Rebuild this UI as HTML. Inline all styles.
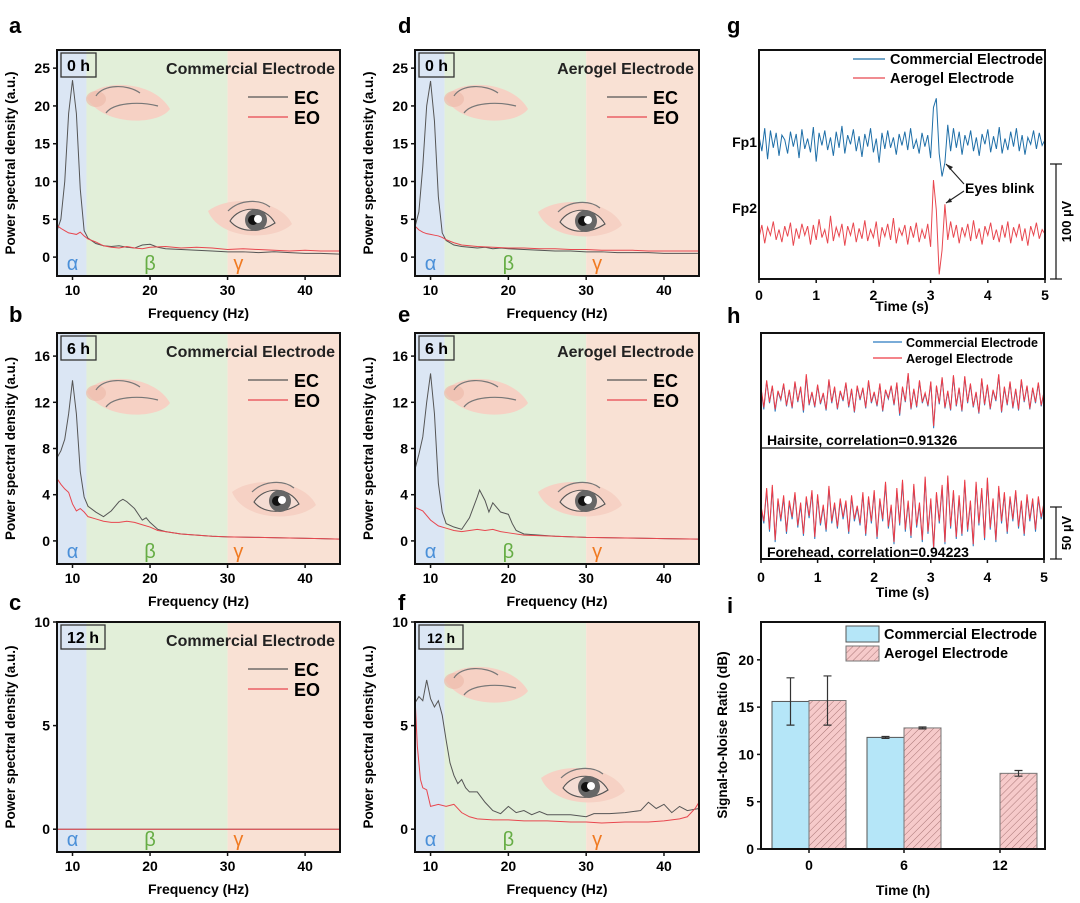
<!DOCTYPE html>
<html><head><meta charset="utf-8"><style>
html,body{margin:0;padding:0;background:#fff;}
svg{display:block;font-family:"Liberation Sans",Arial,sans-serif;font-weight:bold;}
</style></head><body>
<svg id="fig" width="1080" height="903" viewBox="0 0 1080 903" xmlns="http://www.w3.org/2000/svg">
<defs>
<pattern id="hatch" patternUnits="userSpaceOnUse" width="5" height="5" patternTransform="rotate(45)">
<rect width="5" height="5" fill="#f6caca"/><line x1="0" y1="0" x2="0" y2="5" stroke="#a77" stroke-width="1"/></pattern>
</defs>
</svg>
<script>
// ---------- PSD data ----------
const aEcF=[8,8.5,9,9.5,10,10.5,11,11.5,12,13,14,15,16,17,18,19,20,21,22,24,26,28,30,32,34,36,38,40,42,44.5];
const aEcV=[3.5,5,10,19,23.4,19,9,3.5,2.5,1.8,1.5,1.4,1.5,1.3,1.2,1.6,1.7,1.3,1.1,1.0,0.9,0.8,0.7,0.7,0.6,0.7,0.6,0.5,0.5,0.4];
const aEoF=[8,8.5,9,9.5,10,10.5,11,11.5,12,13,14,15,16,17,18,19,20,22,24,26,28,30,32,34,36,38,40,42,44.5];
const aEoV=[4.2,3.8,3.5,3.2,3.1,3.0,3.3,2.8,2.4,2.0,1.5,1.3,1.2,1.4,1.2,1.1,1.3,1.4,1.2,1.3,1.2,1.0,1.1,1.0,0.9,0.8,0.9,0.8,0.8];
const bEcF=[8,8.5,9,9.5,10,10.5,11,11.5,12,13,14,15,16,16.5,17,18,19,19.5,20,21,22,24,26,28,30,34,38,42,44.5];
const bEcV=[7.2,7.8,8.8,11,13.9,11,6,3.8,3.0,2.5,2.1,2.6,3.4,3.6,3.4,2.8,1.8,2.0,1.6,1.0,0.8,0.6,0.5,0.4,0.35,0.3,0.25,0.2,0.15];
const bEoF=[8,8.5,9,9.5,10,10.5,11,11.5,12,13,14,15,16,17,18,19,20,21,22,24,26,28,30,34,38,42,44.5];
const bEoV=[5.4,4.9,4.5,4.2,3.2,2.6,2.8,2.5,2.1,1.9,1.7,1.6,1.6,1.7,1.6,1.4,1.2,0.9,0.8,0.6,0.5,0.4,0.35,0.3,0.25,0.2,0.15];
const cEcF=[8,44.5];
const cEcV=[0,0];
const cEoF=[8,44.5];
const cEoV=[0,0];
const dEcF=[8,8.5,9,9.5,10,10.5,11,11.5,12,13,14,15,16,17,18,19,20,22,24,26,28,30,32,34,36,38,40,42,44.5];
const dEcV=[4.0,6,12,20,23.3,18,8,3.2,2.2,1.6,1.4,1.3,1.2,1.3,1.1,1.2,1.1,1.0,0.9,0.8,0.8,0.7,0.7,0.6,0.6,0.6,0.5,0.5,0.5];
const dEoF=[8,8.5,9,9.5,10,10.5,11,11.5,12,13,14,16,18,20,22,24,26,28,30,32,34,36,38,40,42,44.5];
const dEoV=[4.1,3.6,3.3,3.1,3.0,2.9,2.8,2.6,2.3,1.9,1.6,1.4,1.3,1.2,1.2,1.1,1.1,1.0,1.0,0.9,0.9,0.9,0.8,0.8,0.8,0.8];
const eEcF=[8,8.5,9,9.5,10,10.5,11,11.5,12,13,14,15,16,16.3,17,17.5,18,19,20,20.5,21,22,24,26,30,35,40,44.5];
const eEcV=[6.2,7.5,9,12,14.5,11,5,2.5,1.5,1.2,1.0,2.0,3.8,4.4,3.5,2.5,3.3,2.5,2.3,1.5,0.9,0.6,0.5,0.4,0.3,0.25,0.2,0.15];
const eEoF=[8,9,10,11,12,13,14,16,17,18,19,20,22,26,30,40,44.5];
const eEoV=[2.9,2.6,1.8,1.3,1.1,0.9,0.8,1.0,0.9,1.0,0.8,0.7,0.5,0.4,0.3,0.2,0.15];
const fEcF=[8,8.5,9,9.5,10,10.5,11,11.5,12,12.5,13,13.5,14,14.5,15,16,17,18,19,20,21,22,23,24,25,26,28,30,31,33,35,37,38,39,40,41,42,43,44.5];
const fEcV=[6.1,6.4,6.2,7.2,6.3,5.9,6.2,5.5,4.3,3.2,2.6,2.2,2.4,2.0,1.8,1.8,1.3,0.9,0.75,1.1,0.8,0.9,0.7,0.85,0.7,0.7,0.7,0.6,0.75,0.75,0.8,0.9,1.3,1.0,1.2,0.8,1.1,0.9,1.0];
const fEoF=[8,8.3,8.7,9,9.5,10,11,12,13,14,15,16,18,20,22,25,28,30,32,35,38,40,42,43,44,44.5];
const fEoV=[6.4,4,2.4,2.0,1.9,1.1,1.2,1.1,1.2,0.8,0.6,0.5,0.45,0.45,0.4,0.4,0.35,0.35,0.3,0.35,0.35,0.4,0.5,0.6,1.0,1.3];
const freqTicks=[10,20,30,40];
// ---------- time-series data (µV, 0.05 s steps) ----------
const fp1=[5,-8,12,-15,10,-5,8,-12,6,2,-10,9,-4,7,-14,11,-6,3,-9,13,-17,8,-3,10,-7,4,-12,9,-5,14,-10,6,-2,11,-8,5,-13,7,-4,12,-9,3,-18,8,-6,10,-5,4,-11,7,-3,9,-7,12,-6,2,-10,8,-4,6,-14,30,38,-10,-30,-18,15,-8,12,-5,9,-11,6,-3,10,-8,4,-12,7,-2,11,-9,5,-6,13,-10,3,-7,9,-4,12,-8,6,-11,4,-2,10,-6,8,-3,2];
const fp2=[-4,7,-9,5,-2,10,-6,3,-8,6,-3,9,-11,4,-5,8,-2,6,-10,7,-6,12,-4,3,-9,15,-7,5,-3,8,-11,6,-2,9,-8,4,-5,11,-7,3,-4,10,-12,5,-3,8,-6,13,-9,4,-2,7,-10,6,-4,9,-8,3,-5,8,-12,46,20,-36,-15,25,-6,10,-4,7,-9,5,-3,8,-7,11,-5,4,-10,6,-2,9,-6,3,-8,7,-4,10,-9,5,-3,8,-7,4,-11,6,-2,9,-5,3,-1];
const hairBlue=[8,-12,15,-6,10,-14,5,-3,12,-9,6,-11,14,-5,9,-15,20,-8,4,-10,11,-7,3,-13,16,-6,9,-12,5,-4,13,-10,7,-15,10,-3,8,-11,15,-6,4,-9,12,-14,6,-2,10,-8,13,-18,9,-5,22,-12,7,-10,15,-6,3,-9,14,-30,10,-7,18,-11,5,-13,20,-9,8,-14,19,-6,12,-10,4,-16,17,-8,11,-12,6,-4,21,-15,9,-8,14,-11,7,-13,16,-5,10,-12,8,-6,13,-9,4];
const hairRed=[9,-10,16,-5,11,-12,6,-2,13,-8,7,-10,15,-4,10,-13,22,-7,5,-9,12,-6,4,-12,17,-5,10,-11,6,-3,14,-9,8,-14,11,-2,9,-10,16,-5,5,-8,13,-13,7,-1,11,-7,14,-16,10,-4,23,-11,8,-9,16,-5,4,-8,15,-28,11,-6,19,-10,6,-12,21,-8,9,-13,20,-5,13,-9,5,-15,18,-7,12,-11,7,-3,22,-14,10,-7,15,-10,8,-12,17,-4,11,-11,9,-5,14,-8,5];
const foreBlue=[5,-10,22,-18,25,-28,12,-8,15,-20,10,-6,18,-14,8,-22,14,-5,20,-25,16,-12,6,-18,24,-10,8,-15,12,-6,10,-20,15,-8,5,-12,18,-22,14,-10,20,-25,12,-8,28,-15,6,-30,22,-12,30,-18,10,-24,26,-14,8,-28,33,-20,12,-35,18,-10,25,-30,34,-15,20,-25,15,-22,30,-18,10,-32,28,-12,22,-26,32,-16,12,-28,24,-10,18,-20,14,-8,20,-15,10,-22,16,-8,12,-18,14,-6,8];
const foreRed=[7,-8,24,-16,27,-26,14,-6,17,-18,12,-4,20,-12,10,-20,16,-3,22,-23,18,-10,8,-16,26,-8,10,-13,14,-4,12,-18,17,-6,7,-10,20,-20,16,-8,22,-23,14,-6,30,-13,8,-28,24,-10,32,-16,12,-22,28,-12,10,-26,35,-18,14,-33,20,-8,27,-28,36,-13,22,-23,17,-20,32,-16,12,-30,30,-10,24,-24,34,-14,14,-26,26,-8,20,-18,16,-6,22,-13,12,-20,18,-6,14,-16,16,-4,10];
// ---------- SNR data ----------
const snrCats=['0','6','12'];
const snrComm=[15.6,11.8,null];
const snrCommErr=[2.5,0.1,null];
const snrAero=[15.7,12.8,8.0];
const snrAeroErr=[2.6,0.1,0.3];
const snrTicks=[0,5,10,15,20];

const NS='http://www.w3.org/2000/svg';
const svg=document.getElementById('fig');
function mk(tag,attrs,parent){const e=document.createElementNS(NS,tag);for(const k in attrs)e.setAttribute(k,attrs[k]);(parent||svg).appendChild(e);return e;}
function txt(s,attrs,parent){const e=mk('text',attrs,parent);e.textContent=s;return e;}

function closedEye(g,cx,cy){
  const t=mk('g',{transform:`translate(${cx},${cy})`},g);
  
  
  mk('path',{d:'M-41,-3 C-30,-22 25,-22 42,8 C30,25 -25,25 -41,-3Z',fill:'#f6d1c4'},t);
  mk('ellipse',{cx:-32,cy:-2,rx:10,ry:8,fill:'#eebcac',opacity:0.7},t);
  mk('path',{d:'M-32,-5 C-25,-17 0,-17 12,-8',fill:'none',stroke:'#777','stroke-width':1.2},t);
  mk('path',{d:'M-22,12 C-15,2 10,0 30,5',fill:'none',stroke:'#777','stroke-width':1.2},t);
}
function openEye(g,cx,cy){
  const t=mk('g',{transform:`translate(${cx},${cy})`},g);
  
  
  mk('path',{d:'M-42,-8 C-20,-25 30,-20 42,5 C25,22 -30,22 -42,-8Z',fill:'#f6d1c4'},t);
  mk('path',{d:'M-22,-8 C-10,-20 10,-20 20,-12',fill:'none',stroke:'#777','stroke-width':1.2},t);
  mk('path',{d:'M-20,2 C-10,-14 15,-14 25,4 C10,14 -10,14 -20,2Z',fill:'#f4dcd3',stroke:'#555','stroke-width':1.1},t);
  mk('circle',{cx:6,cy:1,r:11,fill:'#666'},t);
  mk('circle',{cx:3,cy:1,r:5,fill:'#111'},t);
  mk('circle',{cx:8,cy:0,r:4,fill:'#fff'},t);
}

function psd(c){
  const g=mk('g',{});
  
  
  const sx=f=>c.x0+(f-8)/(44.5-8)*(c.x1-c.x0);
  const sy=v=>c.y1-(v-c.ymin)/(c.ymax-c.ymin)*(c.y1-c.y0);
  const cid='clip-'+c.name;
  const cp=mk('clipPath',{id:cid},g);
  mk('rect',{x:c.x0,y:c.y0,width:c.x1-c.x0,height:c.y1-c.y0},cp);
  const a=mk('rect',{x:c.x0,y:c.y0,width:sx(11.8)-c.x0,height:c.y1-c.y0,fill:'#dbe6f4'},g);
  
  
  const b=mk('rect',{x:sx(11.8),y:c.y0,width:sx(30)-sx(11.8),height:c.y1-c.y0,fill:'#e2efd9'},g);
  
  
  const gm=mk('rect',{x:sx(30),y:c.y0,width:c.x1-sx(30),height:c.y1-c.y0,fill:'#f9e1d4'},g);
  
  
  if(c.closed)closedEye(g,c.closed[0],c.closed[1]);
  if(c.open)openEye(g,c.open[0],c.open[1]);
  const lg=mk('g',{'clip-path':`url(#${cid})`},g);
  const ec=mk('polyline',{points:c.ecF.map((f,i)=>sx(f)+','+sy(c.ecV[i])).join(' '),fill:'none',stroke:'#555','stroke-width':1},lg);
  
  
  const eo=mk('polyline',{points:c.eoF.map((f,i)=>sx(f)+','+sy(c.eoV[i])).join(' '),fill:'none',stroke:'#e8474f','stroke-width':1},lg);
  
  
  mk('rect',{x:c.x0,y:c.y0,width:c.x1-c.x0,height:c.y1-c.y0,fill:'none',stroke:'#111','stroke-width':2},g);
  freqTicks.forEach(f=>{
    mk('line',{x1:sx(f),x2:sx(f),y1:c.y1,y2:c.y1+4,stroke:'#111','stroke-width':1.5},g);
    const t=txt(String(f),{x:sx(f),y:c.y1+19,'font-size':14,'text-anchor':'middle'},g);
    
    
  });
  c.ticks.forEach(v=>{
    mk('line',{x1:c.x0-4,x2:c.x0,y1:sy(v),y2:sy(v),stroke:'#111','stroke-width':1.5},g);
    const t=txt(String(v),{x:c.x0-7,y:sy(v)+5,'font-size':14,'text-anchor':'end'},g);
    
    
  });
  const xt=txt('Frequency (Hz)',{x:(c.x0+c.x1)/2,y:c.y1+42,'font-size':14,'text-anchor':'middle'},g);
  
  
  const ym=(c.y0+c.y1)/2;
  const yt=txt('Power spectral density (a.u.)',{x:c.x0-42,y:ym,'font-size':13.5,'text-anchor':'middle',transform:`rotate(-90 ${c.x0-42} ${ym})`},g);
  
  
  const hw=c.hours.length>3?44:35;
  mk('rect',{x:c.x0+4,y:c.y0+3,width:hw,height:24,fill:'none',stroke:'#333','stroke-width':1.3},g);
  const ht=txt(c.hours,{x:c.x0+4+hw/2,y:c.y0+21,'font-size':c.hfs||16,'text-anchor':'middle'},g);
  
  
  if(c.title){
    const tt=txt(c.title,{x:c.x1-5,y:c.y0+24,'font-size':16,'text-anchor':'end',fill:'#222'},g);
    
    
    [['EC','#555',47],['EO','#e8474f',67]].forEach(([n,col,dy])=>{
      mk('line',{x1:c.x1-92,x2:c.x1-52,y1:c.y0+dy,y2:c.y0+dy,stroke:col,'stroke-width':1.3},g);
      const l=txt(n,{x:c.x1-46,y:c.y0+dy+7,'font-size':18},g);
      
      
    });
  }
  [['α','#4a8fd8',10],['β','#66ad45',20],['γ','#f07a22',31.4]].forEach(([s,col,f])=>{
    const l=txt(s,{x:sx(f),y:c.y1-6,'font-size':20,'text-anchor':'middle',fill:col,'font-weight':'normal'},g);
    
    
  });
  const pl=txt(c.letter,{x:c.lx,y:c.ly,'font-size':22},g);
  
  
}

psd({name:'panel-a',letter:'a',lx:9,ly:33,x0:57,x1:340,y0:50,y1:276,ymin:-2.5,ymax:27.4,ticks:[0,5,10,15,20,25],hours:'0 h',title:'Commercial Electrode',ecF:aEcF,ecV:aEcV,eoF:aEoF,eoV:aEoV,closed:[128,101],open:[250,219]});
psd({name:'panel-b',letter:'b',lx:9,ly:322,x0:57,x1:340,y0:333,y1:564,ymin:-2,ymax:18,ticks:[0,4,8,12,16],hours:'6 h',title:'Commercial Electrode',ecF:bEcF,ecV:bEcV,eoF:bEoF,eoV:bEoV,closed:[128,395],open:[274,500]});
psd({name:'panel-c',letter:'c',lx:9,ly:610,x0:57,x1:340,y0:622,y1:852,ymin:-1.1,ymax:10,ticks:[0,5,10],hours:'12 h',title:'Commercial Electrode',ecF:cEcF,ecV:cEcV,eoF:cEoF,eoV:cEoV});
psd({name:'panel-d',letter:'d',lx:398,ly:33,x0:415,x1:699,y0:50,y1:276,ymin:-2.5,ymax:27.4,ticks:[0,5,10,15,20,25],hours:'0 h',title:'Aerogel Electrode',ecF:dEcF,ecV:dEcV,eoF:dEoF,eoV:dEoV,closed:[486,101],open:[580,220]});
psd({name:'panel-e',letter:'e',lx:398,ly:322,x0:415,x1:699,y0:333,y1:564,ymin:-2,ymax:18,ticks:[0,4,8,12,16],hours:'6 h',title:'Aerogel Electrode',ecF:eEcF,ecV:eEcV,eoF:eEoF,eoV:eEoV,closed:[486,395],open:[580,500]});
psd({name:'panel-f',letter:'f',lx:398,ly:610,x0:415,x1:699,y0:622,y1:852,ymin:-1.1,ymax:10,ticks:[0,5,10],hours:'12 h',hfs:14,title:null,ecF:fEcF,ecV:fEcV,eoF:fEoF,eoV:fEoV,closed:[486,683],open:[583,786]});

// ---------- time series panels ----------
function tsAxes(g,x0,x1,y0,y1,tickY,titleY){
  mk('rect',{x:x0,y:y0,width:x1-x0,height:y1-y0,fill:'none',stroke:'#111','stroke-width':2},g);
  [0,1,2,3,4,5].forEach(s=>{
    const x=x0+s/5*(x1-x0);
    mk('line',{x1:x,x2:x,y1:y1,y2:y1+4,stroke:'#111','stroke-width':1.5},g);
    const t=txt(String(s),{x:x,y:tickY,'font-size':14,'text-anchor':'middle'},g);
    
    
  });
  const tt=txt('Time (s)',{x:(x0+x1)/2,y:titleY,'font-size':14,'text-anchor':'middle'},g);
  
  
}
function trace(g,arr,x0,x1,base,k,col,name){
  const n=arr.length;
  const p=mk('polyline',{points:arr.map((v,i)=>(x0+i/(n-1)*(x1-x0))+','+(base-v*k)).join(' '),fill:'none',stroke:col,'stroke-width':1},g);
  
  
}
function scaleBar(g,x,ya,yb,label){
  mk('line',{x1:x,x2:x,y1:ya,y2:yb,stroke:'#111','stroke-width':1.2},g);
  mk('line',{x1:x-6,x2:x+6,y1:ya,y2:ya,stroke:'#111','stroke-width':1.2},g);
  mk('line',{x1:x-6,x2:x+6,y1:yb,y2:yb,stroke:'#111','stroke-width':1.2},g);
  const ym=(ya+yb)/2;
  const t=txt(label,{x:x+15,y:ym,'font-size':13,'text-anchor':'middle',transform:`rotate(-90 ${x+15} ${ym})`},g);
  
  
}
// panel g
(function(){
  const g=mk('g',{});
  
  
  const x0=759,x1=1045;
  trace(g,fp1,x0,x1,142,1.15,'#1f6fa8','fp1-trace');
  trace(g,fp2,x0,x1,233,1.15,'#e8474f','fp2-trace');
  tsAxes(g,x0,x1,50,279,300,311);
  [['Commercial Electrode','#1f6fa8',59],['Aerogel Electrode','#e8474f',78]].forEach(([s,c,y])=>{
    mk('line',{x1:853,x2:885,y1:y,y2:y,stroke:c,'stroke-width':1.3},g);
    const t=txt(s,{x:890,y:y+5,'font-size':14.5},g);
    
    
  });
  const f1=txt('Fp1',{x:757,y:147,'font-size':14,'text-anchor':'end'},g);
  
  
  const f2=txt('Fp2',{x:757,y:213,'font-size':14,'text-anchor':'end'},g);
  
  
  const eb=txt('Eyes blink',{x:965,y:193,'font-size':14},g);
  
  
  mk('line',{x1:964,y1:184,x2:946,y2:164,stroke:'#222','stroke-width':1.1},g);
  mk('path',{d:'M946,164 l7,3 l-3,3 Z',fill:'#222'},g);
  mk('line',{x1:964,y1:191,x2:946,y2:203,stroke:'#222','stroke-width':1.1},g);
  mk('path',{d:'M946,203 l4,-5 l2,4 Z',fill:'#222'},g);
  scaleBar(g,1056,164,279,'100 µV');
  const pl=txt('g',{x:727,y:33,'font-size':22},g);
  
  
})();
// panel h
(function(){
  const g=mk('g',{});
  
  
  const x0=761,x1=1044;
  trace(g,hairBlue,x0,x1,397,1.04,'#2b7bc0','hairsite-commercial-trace');
  trace(g,hairRed,x0,x1,397,1.04,'#ee3b45','hairsite-aerogel-trace');
  trace(g,foreBlue,x0,x1,513,1.04,'#2b7bc0','forehead-commercial-trace');
  trace(g,foreRed,x0,x1,513,1.04,'#ee3b45','forehead-aerogel-trace');
  mk('line',{x1:x0,x2:x1,y1:448,y2:448,stroke:'#111','stroke-width':1.2},g);
  tsAxes(g,x0,x1,333,559,582,597);
  [['Commercial Electrode','#2b7bc0',342],['Aerogel Electrode','#ee3b45',358]].forEach(([s,c,y])=>{
    mk('line',{x1:873,x2:902,y1:y,y2:y,stroke:c,'stroke-width':1.3},g);
    const t=txt(s,{x:906,y:y+5,'font-size':12.5},g);
    
    
  });
  const h1=txt('Hairsite, correlation=0.91326',{x:767,y:445,'font-size':14},g);
  
  
  const h2=txt('Forehead, correlation=0.94223',{x:767,y:557,'font-size':14},g);
  
  
  scaleBar(g,1056,507,559,'50 µV');
  const pl=txt('h',{x:727,y:323,'font-size':22},g);
  
  
})();
// panel i
(function(){
  const g=mk('g',{});
  
  
  const x0=761,x1=1045,y0=622,y1=849;
  const sy=v=>y1-v/24*(y1-y0);
  const cx=[809,904,1000];
  const bw=37;
  snrCats.forEach((c,i)=>{
    if(snrComm[i]!=null){
      const r=mk('rect',{x:cx[i]-bw,y:sy(snrComm[i]),width:bw,height:y1-sy(snrComm[i]),fill:'#b5e6f8',stroke:'#555','stroke-width':1},g);
      
      
      const ex=cx[i]-bw/2;
      mk('path',{d:`M${ex},${sy(snrComm[i]+snrCommErr[i])}V${sy(snrComm[i]-snrCommErr[i])}M${ex-4},${sy(snrComm[i]+snrCommErr[i])}h8M${ex-4},${sy(snrComm[i]-snrCommErr[i])}h8`,stroke:'#333','stroke-width':1.2,fill:'none'},g);
    }
    const r2=mk('rect',{x:cx[i],y:sy(snrAero[i]),width:bw,height:y1-sy(snrAero[i]),fill:'url(#hatch)',stroke:'#777','stroke-width':1},g);
    
    
    const ex2=cx[i]+bw/2;
    mk('path',{d:`M${ex2},${sy(snrAero[i]+snrAeroErr[i])}V${sy(snrAero[i]-snrAeroErr[i])}M${ex2-4},${sy(snrAero[i]+snrAeroErr[i])}h8M${ex2-4},${sy(snrAero[i]-snrAeroErr[i])}h8`,stroke:'#333','stroke-width':1.2,fill:'none'},g);
    mk('line',{x1:cx[i],x2:cx[i],y1:y1,y2:y1+4,stroke:'#111','stroke-width':1.5},g);
    const t=txt(c,{x:cx[i],y:870,'font-size':14,'text-anchor':'middle'},g);
    
    
  });
  mk('rect',{x:x0,y:y0,width:x1-x0,height:y1-y0,fill:'none',stroke:'#111','stroke-width':2},g);
  snrTicks.forEach(v=>{
    mk('line',{x1:x0-4,x2:x0,y1:sy(v),y2:sy(v),stroke:'#111','stroke-width':1.5},g);
    const t=txt(String(v),{x:x0-7,y:sy(v)+5,'font-size':14,'text-anchor':'end'},g);
    
    
  });
  const l1=mk('rect',{x:846,y:626,width:33,height:16,fill:'#b5e6f8',stroke:'#555','stroke-width':1},g);
  
  
  const l2=mk('rect',{x:846,y:646,width:33,height:15,fill:'url(#hatch)',stroke:'#777','stroke-width':1},g);
  
  
  const t1=txt('Commercial Electrode',{x:884,y:639,'font-size':14.5},g);
  
  
  const t2=txt('Aerogel Electrode',{x:884,y:658,'font-size':14.5},g);
  
  
  const xt=txt('Time (h)',{x:903,y:895,'font-size':14,'text-anchor':'middle'},g);
  
  
  const yt=txt('Signal-to-Noise Ratio (dB)',{x:727,y:735,'font-size':13.5,'text-anchor':'middle',transform:'rotate(-90 727 735)'},g);
  
  
  const pl=txt('i',{x:727,y:613,'font-size':22},g);
  
  
})();
</script>
</body></html>
